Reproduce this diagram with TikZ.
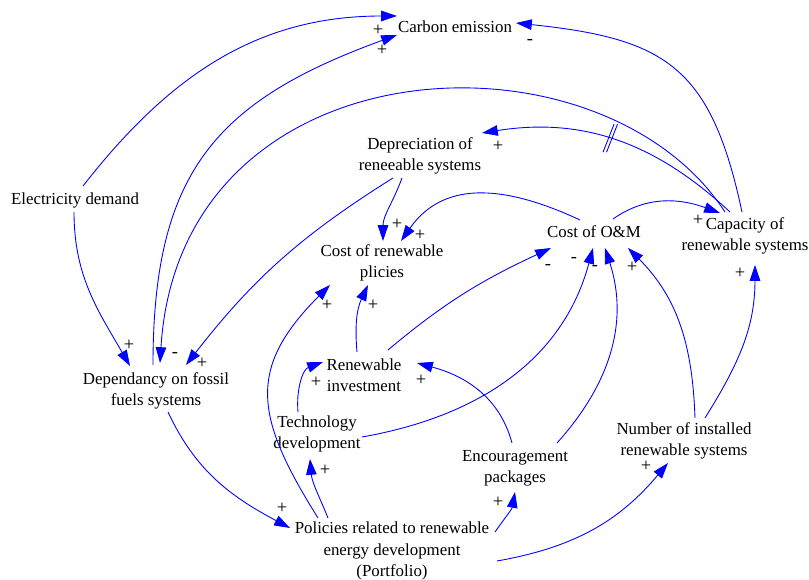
\documentclass[tikz,border=0pt]{standalone}
\usepackage{fontspec}
\setmainfont{Liberation Serif}
\usetikzlibrary{arrows.meta,calc}

\begin{document}
\begin{tikzpicture}[scale=0.2,
    var/.style={align=center,font=\fontsize{9.6}{12}\selectfont},
    sgn/.style={font=\fontsize{10.5}{12}\selectfont},
    link/.style={draw=blue,line width=0.5pt,-{Triangle[length=9pt,width=6pt]}}]
    \tikzstyle{every node}+=[inner sep=0pt]
    \useasboundingbox (0,0) rectangle (80.9,-58);
    \node[var] (ce) at (45.5,-2.7) {Carbon emission};
    \node[var] (ed) at (7.5,-20) {Electricity demand};
    \node[var] (dep) at (42,-15.6) {Depreciation of\\reneeable systems};
    \node[var] (crp) at (38.2,-26.3) {Cost of renewable\\plicies};
    \node[var] (com) at (59.4,-23.2) {Cost of O\&M};
    \node[var] (cap) at (74.5,-23.6) {Capacity of\\renewable systems};
    \node[var] (dfs) at (15.6,-39.1) {Dependancy on fossil\\fuels systems};
    \node[var] (ri) at (36.4,-37.5) {Renewable\\investment};
    \node[var] (td) at (31.7,-43.4) {Technology\\development};
    \node[var] (ep) at (51.5,-46.8) {Encouragement\\packages};
    \node[var] (nirs) at (68.4,-44.1) {Number of installed\\renewable systems};
    \node[var] (pol) at (39.2,-55.1) {Policies related to renewable\\energy development\\(Portfolio)};
    \draw[link] ($(ed)+(0.8,1.4)$) to[out=52,in=180] ($(ce)+(-5.8,1.1)$);
    \draw[link] ($(dfs)+(-0.3,2.6)$) to[out=90,in=200,looseness=1.2] ($(ce)+(-5.8,-0.8)$);
    \draw[link] ($(cap)+(-0.3,2.4)$) to[out=102,in=-6,looseness=1.3] ($(ce)+(6.1,0.4)$);
    \draw[link] ($(cap)+(-1.5,2.4)$) to[out=137,in=9] coordinate[pos=0.53] (dly) ($(dep)+(6.2,2.3)$);
    \draw[blue,line width=0.5pt] ($(dly)+(-0.55,-1.4)$) -- ($(dly)+(0.55,1.4)$);
    \draw[blue,line width=0.5pt] ($(dly)+(-0.2,-1.4)$) -- ($(dly)+(0.9,1.4)$);
    \draw[link] ($(cap)+(-2,2.4)$) .. controls (60,-2) and (18,-4) .. ($(dfs)+(0.4,2.8)$);
    \draw[link] ($(dep)+(-2.7,-2.2)$) to[bend right=10] ($(dfs)+(3,2.6)$);
    \draw[link] ($(dep)+(-1.8,-2.2)$) to[out=-110,in=90] ($(crp)+(0.1,2.2)$);
    \draw[link] ($(com)+(-1.4,1.2)$) to[out=155,in=55,looseness=1.1] ($(crp)+(1.9,2.2)$);
    \draw[link] ($(com)+(1.9,1.3)$) to[out=35,in=160] ($(cap)+(-2.5,2.3)$);
    \draw[link] ($(ri)+(-0.7,2.3)$) to[out=95,in=-115] ($(crp)+(-1.4,-2.2)$);
    \draw[link] ($(pol)+(-7.4,3.3)$) to[out=122,in=-135,looseness=1.3] ($(crp)+(-5.2,-2.2)$);
    \draw[link] ($(pol)+(-6.4,3.3)$) to[out=112,in=-85] ($(td)+(-0.7,-2.5)$);
    \draw[link] ($(td)+(-1.9,2.2)$) to[out=95,in=200] ($(ri)+(-4.1,1.3)$);
    \draw[link] ($(td)+(4.5,-0.3)$) to[out=10,in=-105] ($(com)+(-0.1,-1.6)$);
    \draw[link] ($(ri)+(2.4,2.5)$) to[out=40,in=205] ($(com)+(-4.3,-1.6)$);
    \draw[link] ($(ep)+(4.2,2.5)$) to[out=48,in=-72] ($(com)+(1.1,-1.6)$);
    \draw[link] ($(ep)+(-0.3,2.5)$) to[out=105,in=-15] ($(ri)+(5.3,1.2)$);
    \draw[link] ($(nirs)+(1.1,2.3)$) to[out=92,in=-45] ($(com)+(3.4,-1.6)$);
    \draw[link] ($(nirs)+(2.1,2.3)$) to[out=58,in=-90] ($(cap)+(1,-2.9)$);
    \draw[link] ($(pol)+(10.3,1.9)$) to[out=55,in=-100] ($(ep)+(0,-2.4)$);
    \draw[link] ($(pol)+(10.5,-1)$) to[out=10,in=-130] ($(nirs)+(-1.6,-2.2)$);
    \draw[link] ($(ed)+(-0.1,-1.2)$) to[out=-90,in=120] ($(dfs)+(-2.6,2.5)$);
    \draw[link] ($(dfs)+(1.2,-2.1)$) to[out=-65,in=152] ($(pol)+(-10.2,2.3)$);
    \node[sgn] (s1) at (37.8,-3) {+};
    \node[sgn] (s2) at (38.2,-5) {+};
    \node[sgn] (s3) at (53,-4.2) {-};
    \node[sgn] (s4) at (49.8,-14.6) {+};
    \node[sgn] (s5) at (39.7,-22.4) {+};
    \node[sgn] (s6) at (42,-23.5) {+};
    \node[sgn] (s7) at (69.8,-22) {+};
    \node[sgn] (s8) at (12.9,-34.5) {+};
    \node[sgn] (s9) at (17.5,-35.5) {-};
    \node[sgn] (s10) at (20.2,-36.3) {+};
    \node[sgn] (s11) at (32.7,-30.5) {+};
    \node[sgn] (s12) at (37.3,-30.5) {+};
    \node[sgn] (s13) at (31.6,-38.2) {+};
    \node[sgn] (s14) at (42.1,-38) {+};
    \node[sgn] (s15) at (54.8,-26.7) {-};
    \node[sgn] (s16) at (57.4,-26) {-};
    \node[sgn] (s17) at (59.5,-26.8) {-};
    \node[sgn] (s18) at (63.2,-26.7) {+};
    \node[sgn] (s19) at (74,-27.3) {+};
    \node[sgn] (s20) at (32.5,-47) {+};
    \node[sgn] (s21) at (28.2,-50.8) {+};
    \node[sgn] (s22) at (49.8,-50.2) {+};
    \node[sgn] (s23) at (64.6,-46.6) {+};
\end{tikzpicture}
\end{document}
